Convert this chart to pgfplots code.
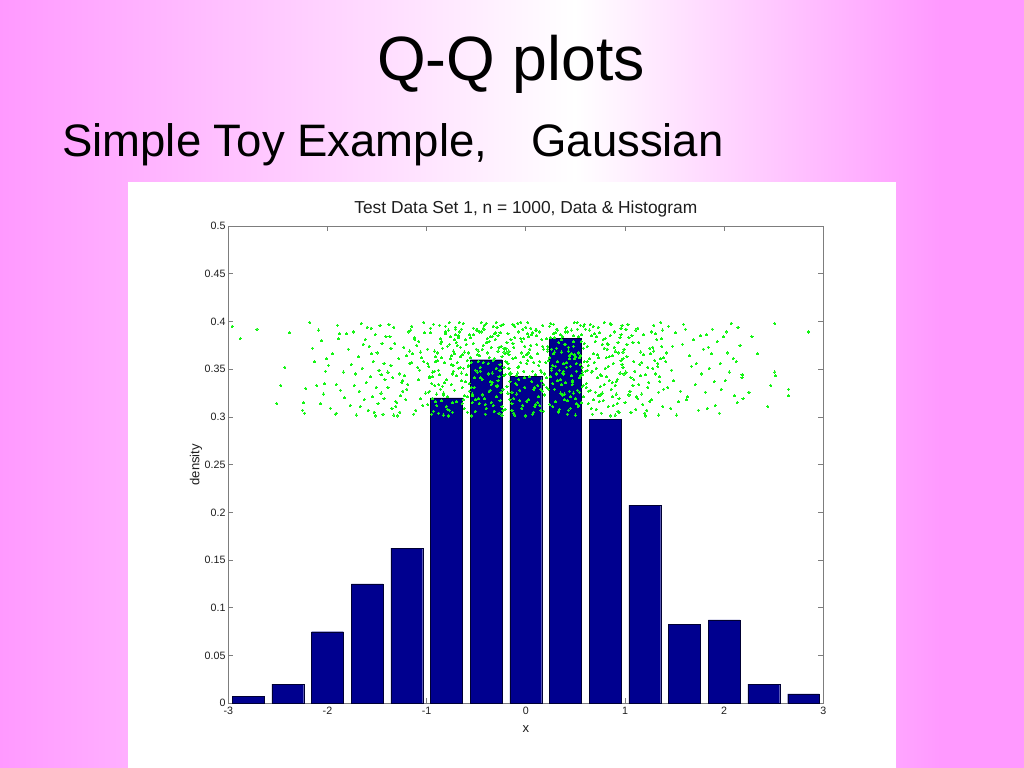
\documentclass[border=0pt]{standalone}
\usepackage{pgfplots}
\pgfplotsset{compat=1.18}
\usepackage{fontspec}
\setmainfont{Liberation Sans}
\definecolor{pinkbg}{RGB}{255,153,255}
\definecolor{barblue}{RGB}{0,0,143}
\definecolor{axgray}{RGB}{125,125,125}
\definecolor{dotgreen}{RGB}{20,245,20}
\definecolor{lbl}{RGB}{30,30,30}

\pgfplotstableread{
x y
-2.96 0.395
-2.88 0.382
-2.71 0.392
-2.43 0.352
-2.47 0.333
-2.51 0.314
-2.24 0.315
-2.25 0.307
-2.23 0.304
-2.22 0.330
-2.38 0.388
-2.18 0.399
-2.06 0.380
-2.13 0.358
-2.03 0.335
-2.07 0.314
-1.91 0.304
-2.01 0.361
-1.99 0.354
-2.02 0.348
-2.11 0.333
-1.90 0.396
-1.88 0.387
-1.89 0.382
-1.81 0.387
-1.91 0.334
-1.87 0.328
-1.83 0.320
-1.92 0.303
-2.15 0.372
-1.95 0.366
-2.09 0.391
-1.84 0.347
-1.97 0.309
-2.04 0.324
-1.79 0.371
-1.77 0.312
-1.74 0.389
-1.72 0.345
-1.71 0.302
-1.69 0.363
-1.68 0.327
-1.66 0.398
-1.65 0.351
-1.63 0.318
-1.62 0.381
-1.61 0.336
-1.59 0.307
-1.58 0.374
-1.57 0.342
-1.56 0.393
-1.55 0.321
-1.54 0.358
-1.53 0.305
-1.52 0.386
-1.51 0.331
-1.50 0.367
-1.49 0.314
-1.48 0.349
-1.47 0.396
-1.46 0.325
-1.45 0.377
-1.44 0.303
-1.43 0.356
-1.42 0.339
-1.41 0.384
-1.76 0.355
-1.73 0.333
-1.67 0.311
-1.64 0.376
-1.60 0.394
-1.56 0.366
-1.52 0.301
-1.46 0.344
-1.43 0.319
-1.39 0.347
-1.12 0.381
-1.27 0.305
-1.05 0.362
-1.33 0.394
-1.21 0.318
-1.08 0.339
-1.36 0.372
-1.17 0.356
-1.29 0.301
-1.02 0.388
-1.24 0.327
-1.14 0.366
-1.31 0.311
-1.07 0.349
-1.38 0.397
-1.19 0.334
-1.26 0.322
-1.10 0.375
-1.35 0.309
-1.03 0.358
-1.22 0.343
-1.16 0.391
-1.30 0.315
-1.06 0.368
-1.25 0.336
-1.13 0.303
-1.37 0.384
-1.09 0.352
-1.20 0.329
-1.32 0.377
-1.04 0.312
-1.28 0.361
-1.15 0.395
-1.34 0.341
-1.11 0.307
-1.23 0.373
-1.01 0.325
-1.18 0.389
-1.36 0.354
-1.06 0.319
-1.27 0.345
-1.12 0.383
-1.39 0.331
-1.20 0.364
-1.03 0.399
-1.31 0.316
-1.15 0.357
-1.24 0.338
-1.08 0.379
-1.33 0.302
-1.17 0.369
-0.97 0.342
-0.63 0.318
-0.81 0.387
-0.74 0.305
-0.92 0.369
-0.68 0.351
-0.86 0.329
-0.71 0.394
-0.99 0.313
-0.77 0.376
-0.65 0.338
-0.89 0.359
-0.83 0.302
-0.61 0.381
-0.94 0.347
-0.72 0.366
-0.79 0.321
-0.67 0.399
-0.88 0.334
-0.75 0.355
-0.96 0.388
-0.62 0.309
-0.84 0.372
-0.70 0.343
-0.91 0.316
-0.78 0.391
-0.66 0.363
-0.98 0.326
-0.73 0.348
-0.85 0.379
-0.64 0.331
-0.93 0.397
-0.80 0.311
-0.69 0.357
-0.87 0.344
-0.76 0.384
-0.95 0.303
-0.62 0.368
-0.82 0.336
-0.71 0.392
-0.90 0.324
-0.66 0.352
-0.79 0.374
-0.97 0.341
-0.74 0.315
-0.85 0.362
-0.63 0.398
-0.92 0.333
-0.77 0.307
-0.68 0.385
-0.88 0.349
-0.99 0.371
-0.72 0.328
-0.81 0.395
-0.65 0.346
-0.94 0.319
-0.75 0.364
-0.86 0.382
-0.61 0.337
-0.91 0.358
-0.78 0.301
-0.69 0.375
-0.83 0.323
-0.96 0.393
-0.73 0.354
-0.64 0.314
-0.89 0.367
-0.80 0.339
-0.67 0.389
-0.93 0.306
-0.76 0.361
-0.84 0.332
-0.70 0.378
-0.98 0.353
-0.62 0.322
-0.87 0.396
-0.74 0.345
-0.90 0.312
-0.66 0.373
-0.82 0.357
-0.95 0.335
-0.71 0.386
-0.79 0.308
-0.64 0.365
-0.92 0.348
-0.77 0.399
-0.85 0.317
-0.68 0.383
-0.97 0.327
-0.73 0.369
-0.88 0.304
-0.63 0.351
-0.81 0.389
-0.94 0.342
-0.70 0.316
-0.86 0.377
-0.75 0.334
-0.91 0.363
-0.65 0.392
-0.83 0.325
-0.99 0.356
-0.72 0.381
-0.58 0.367
-0.33 0.312
-0.47 0.389
-0.22 0.343
-0.51 0.306
-0.39 0.378
-0.26 0.355
-0.55 0.331
-0.42 0.396
-0.30 0.321
-0.59 0.359
-0.36 0.384
-0.24 0.302
-0.49 0.347
-0.44 0.371
-0.28 0.338
-0.53 0.393
-0.35 0.315
-0.21 0.366
-0.46 0.352
-0.57 0.327
-0.31 0.388
-0.40 0.309
-0.25 0.374
-0.52 0.341
-0.37 0.362
-0.23 0.397
-0.48 0.319
-0.56 0.383
-0.34 0.336
-0.43 0.357
-0.27 0.304
-0.50 0.391
-0.38 0.345
-0.22 0.372
-0.54 0.324
-0.32 0.361
-0.45 0.399
-0.29 0.333
-0.60 0.376
-0.41 0.313
-0.26 0.349
-0.53 0.386
-0.36 0.328
-0.47 0.364
-0.23 0.307
-0.58 0.354
-0.33 0.395
-0.44 0.339
-0.28 0.369
-0.51 0.318
-0.39 0.382
-0.21 0.344
-0.55 0.301
-0.35 0.373
-0.48 0.358
-0.25 0.326
-0.42 0.392
-0.30 0.351
-0.57 0.335
-0.37 0.379
-0.24 0.311
-0.49 0.365
-0.40 0.398
-0.27 0.342
-0.54 0.322
-0.32 0.387
-0.46 0.348
-0.22 0.368
-0.59 0.305
-0.38 0.356
-0.29 0.394
-0.52 0.331
-0.43 0.375
-0.26 0.317
-0.56 0.362
-0.34 0.346
-0.45 0.389
-0.23 0.329
-0.50 0.371
-0.41 0.303
-0.31 0.381
-0.58 0.353
-0.36 0.337
-0.25 0.396
-0.47 0.314
-0.53 0.377
-0.33 0.359
-0.44 0.323
-0.28 0.385
-0.60 0.344
-0.39 0.367
-0.21 0.308
-0.49 0.391
-0.35 0.334
-0.55 0.357
-0.27 0.373
-0.42 0.319
-0.30 0.399
-0.51 0.349
-0.37 0.327
-0.24 0.363
-0.57 0.386
-0.46 0.341
-0.32 0.306
-0.40 0.378
-0.22 0.352
-0.54 0.315
-0.43 0.393
-0.29 0.332
-0.48 0.369
-0.34 0.384
-0.59 0.321
-0.38 0.345
-0.26 0.388
-0.18 0.356
0.13 0.321
-0.07 0.389
0.04 0.342
-0.14 0.307
0.17 0.374
-0.02 0.363
0.09 0.331
-0.11 0.395
0.01 0.316
-0.19 0.368
0.15 0.349
-0.05 0.382
0.07 0.303
-0.16 0.337
0.11 0.391
-0.09 0.324
0.02 0.359
-0.13 0.377
0.19 0.345
-0.03 0.312
0.06 0.386
-0.17 0.351
0.12 0.333
-0.08 0.398
0.03 0.367
-0.12 0.319
0.16 0.381
-0.01 0.341
0.08 0.305
-0.20 0.372
0.14 0.358
-0.06 0.328
0.05 0.393
-0.15 0.346
0.10 0.313
-0.04 0.379
0.18 0.334
-0.10 0.362
0.00 0.301
-0.18 0.387
0.13 0.354
-0.07 0.339
0.04 0.371
-0.14 0.326
0.17 0.396
-0.02 0.348
0.09 0.311
-0.11 0.383
0.01 0.365
-0.19 0.332
0.15 0.307
-0.05 0.357
0.07 0.388
-0.16 0.318
0.11 0.376
-0.09 0.343
0.02 0.399
-0.13 0.361
0.19 0.323
-0.03 0.392
0.06 0.337
-0.17 0.369
0.12 0.315
-0.08 0.352
0.03 0.384
-0.12 0.304
0.16 0.347
-0.01 0.374
0.08 0.329
-0.20 0.358
0.14 0.389
-0.06 0.317
0.05 0.363
-0.15 0.381
0.10 0.344
-0.04 0.309
0.18 0.371
-0.10 0.335
0.00 0.394
-0.18 0.325
0.12 0.366
-0.07 0.353
0.03 0.318
-0.13 0.397
0.16 0.338
-0.02 0.382
0.08 0.357
-0.11 0.302
0.05 0.375
-0.16 0.345
0.14 0.312
-0.04 0.367
0.10 0.391
-0.09 0.334
0.01 0.356
-0.19 0.378
0.17 0.327
-0.05 0.399
0.07 0.348
-0.14 0.314
0.11 0.385
-0.01 0.331
0.06 0.362
-0.12 0.373
0.18 0.306
-0.08 0.346
0.02 0.387
-0.17 0.365
0.15 0.329
0.22 0.371
0.47 0.334
0.31 0.392
0.56 0.315
0.38 0.356
0.25 0.383
0.51 0.348
0.43 0.307
0.28 0.366
0.59 0.397
0.35 0.325
0.48 0.374
0.21 0.341
0.54 0.362
0.40 0.389
0.27 0.311
0.45 0.353
0.33 0.378
0.57 0.332
0.24 0.395
0.50 0.319
0.37 0.346
0.29 0.368
0.53 0.384
0.42 0.303
0.20 0.357
0.46 0.391
0.32 0.338
0.58 0.372
0.39 0.324
0.26 0.349
0.52 0.399
0.44 0.361
0.30 0.316
0.55 0.343
0.36 0.381
0.23 0.329
0.49 0.365
0.41 0.394
0.34 0.308
0.57 0.352
0.28 0.387
0.47 0.337
0.22 0.369
0.53 0.312
0.39 0.376
0.31 0.345
0.59 0.358
0.44 0.327
0.25 0.398
0.50 0.363
0.36 0.334
0.56 0.386
0.42 0.317
0.27 0.354
0.48 0.379
0.33 0.305
0.54 0.341
0.40 0.393
0.21 0.331
0.46 0.366
0.38 0.348
0.58 0.321
0.30 0.388
0.51 0.356
0.43 0.373
0.24 0.313
0.55 0.396
0.35 0.339
0.49 0.361
0.29 0.383
0.52 0.328
0.41 0.352
0.26 0.371
0.57 0.344
0.45 0.309
0.32 0.391
0.53 0.367
0.37 0.323
0.23 0.359
0.48 0.385
0.40 0.336
0.59 0.377
0.34 0.349
0.50 0.302
0.44 0.364
0.28 0.397
0.55 0.355
0.39 0.318
0.21 0.382
0.46 0.343
0.31 0.372
0.54 0.326
0.42 0.389
0.26 0.351
0.51 0.314
0.36 0.368
0.58 0.395
0.47 0.338
0.24 0.362
0.33 0.306
0.56 0.379
0.41 0.357
0.29 0.329
0.52 0.392
0.38 0.345
0.22 0.374
0.45 0.321
0.35 0.386
0.57 0.347
0.43 0.369
0.27 0.335
0.49 0.399
0.30 0.353
0.53 0.311
0.40 0.376
0.25 0.342
0.55 0.364
0.37 0.384
0.48 0.325
0.32 0.358
0.58 0.333
0.62 0.358
0.87 0.321
0.71 0.384
0.95 0.346
0.66 0.309
0.79 0.372
0.91 0.337
0.68 0.395
0.83 0.353
0.74 0.316
0.98 0.368
0.61 0.331
0.89 0.389
0.76 0.304
0.64 0.361
0.93 0.378
0.81 0.342
0.70 0.326
0.86 0.397
0.97 0.355
0.63 0.314
0.78 0.381
0.90 0.333
0.72 0.365
0.85 0.301
0.67 0.348
0.96 0.386
0.75 0.323
0.82 0.371
0.60 0.392
0.92 0.339
0.69 0.357
0.88 0.312
0.77 0.376
0.99 0.345
0.65 0.328
0.84 0.363
0.73 0.394
0.94 0.319
0.80 0.351
0.62 0.374
0.87 0.336
0.71 0.308
0.95 0.383
0.66 0.347
0.79 0.399
0.91 0.324
0.68 0.366
0.83 0.311
0.74 0.388
0.98 0.352
0.61 0.335
0.89 0.373
0.76 0.343
0.64 0.391
0.93 0.306
0.81 0.362
0.70 0.379
0.86 0.329
0.97 0.396
0.63 0.354
0.78 0.317
0.90 0.369
0.72 0.341
0.85 0.385
0.67 0.303
0.96 0.359
0.75 0.332
0.82 0.377
0.60 0.348
0.92 0.314
0.69 0.387
0.88 0.356
0.77 0.325
0.99 0.371
0.65 0.397
0.84 0.338
0.73 0.362
0.94 0.305
0.80 0.382
0.63 0.327
0.87 0.364
0.71 0.351
0.96 0.393
0.68 0.318
0.83 0.376
0.75 0.344
0.90 0.302
0.66 0.385
0.79 0.334
0.93 0.367
0.62 0.349
0.85 0.398
0.73 0.322
0.98 0.361
1.02 0.376
1.27 0.318
1.11 0.391
1.35 0.342
1.06 0.305
1.19 0.365
1.31 0.387
1.08 0.333
1.23 0.352
1.38 0.311
1.14 0.378
1.01 0.347
1.29 0.396
1.17 0.324
1.36 0.361
1.04 0.383
1.22 0.307
1.33 0.356
1.09 0.339
1.25 0.372
1.39 0.329
1.13 0.393
1.00 0.315
1.28 0.351
1.16 0.368
1.34 0.302
1.07 0.385
1.21 0.344
1.37 0.374
1.12 0.321
1.30 0.359
1.03 0.397
1.24 0.336
1.18 0.313
1.32 0.381
1.10 0.348
1.26 0.366
1.05 0.327
1.38 0.391
1.15 0.355
1.20 0.304
1.35 0.337
1.02 0.363
1.27 0.389
1.13 0.319
1.31 0.345
1.08 0.378
1.23 0.331
1.36 0.399
1.17 0.357
1.04 0.323
1.29 0.369
1.11 0.308
1.33 0.353
1.19 0.386
1.06 0.341
1.25 0.316
1.39 0.362
1.14 0.334
1.01 0.392
1.28 0.373
1.21 0.301
1.34 0.326
1.09 0.358
1.37 0.382
1.16 0.343
1.42 0.367
1.63 0.321
1.51 0.388
1.77 0.345
1.46 0.309
1.58 0.376
1.71 0.334
1.44 0.395
1.67 0.353
1.54 0.316
1.79 0.371
1.49 0.338
1.61 0.392
1.74 0.307
1.41 0.358
1.56 0.327
1.69 0.381
1.47 0.349
1.65 0.364
1.52 0.302
1.76 0.385
1.43 0.331
1.59 0.397
1.72 0.356
1.48 0.374
1.62 0.318
2.14 0.394
2.12 0.358
2.18 0.344
2.18 0.341
2.19 0.319
2.13 0.315
2.03 0.367
1.82 0.386
1.97 0.329
1.85 0.351
2.07 0.398
1.91 0.312
1.84 0.373
2.01 0.338
1.88 0.392
1.95 0.304
2.09 0.361
1.81 0.326
1.93 0.379
2.05 0.347
1.87 0.366
1.99 0.384
2.10 0.322
1.83 0.309
1.96 0.356
2.16 0.375
1.90 0.337
2.02 0.389
2.51 0.398
2.34 0.366
2.51 0.347
2.52 0.343
2.47 0.333
2.44 0.311
2.25 0.326
2.28 0.384
2.85 0.389
2.65 0.329
2.65 0.322
}\dotdata

\begin{document}
\begin{tikzpicture}
\begin{scope}[x=0.703125pt,y=-0.703125pt]
\fill[pinkbg] (0,0) rectangle (1024,768);
\shade[left color=pinkbg,right color=white] (0,0) rectangle (575,768);
\shade[left color=white,right color=pinkbg] (575,0) rectangle (940,768);
\fill[white] (128,182) rectangle (896,768);
\node[anchor=base,inner sep=0pt,font=\fontsize{44}{50}\selectfont] at (511,80.5) {Q-Q plots};
\node[anchor=base west,inner sep=0pt,font=\fontsize{32}{38}\selectfont] at (62,157) {Simple Toy Example,};
\node[anchor=base west,inner sep=0pt,font=\fontsize{32}{38}\selectfont] at (531,157) {Gaussian};
\end{scope}
\begin{axis}[
  at={(160.52pt,-494.51pt)}, anchor=south west,
  width=418.4pt, height=335.6pt, scale only axis,
  xmin=-3, xmax=3, ymin=0, ymax=0.5,
  xtick={-3,-2,-1,0,1,2,3},
  ytick={0,0.05,0.1,0.15,0.2,0.25,0.3,0.35,0.4,0.45,0.5},
  scaled y ticks=false,
  tick align=inside,
  major tick length=3.5pt,
  axis line style={axgray, line width=0.5pt},
  every tick/.style={axgray, line width=0.5pt},
  /pgf/number format/assume math mode=true,
  yticklabel style={/pgf/number format/fixed, /pgf/number format/precision=2,
     font=\fontsize{7.5}{8}\selectfont, text=lbl, inner sep=1.8pt},
  xticklabel style={font=\fontsize{7.5}{8}\selectfont, text=lbl, inner sep=2.6pt},
  title={Test Data Set 1, n = 1000, Data \& Histogram},
  title style={at={(axis description cs:0.5,1.009)}, anchor=base, inner sep=0pt,
     font=\fontsize{12.2}{14}\selectfont, text=lbl},
  xlabel={x}, ylabel={density},
  every axis x label/.style={at={(axis description cs:0.5,-0.0616)}, anchor=base,
     inner sep=0pt, font=\fontsize{9.2}{11}\selectfont, text=lbl},
  every axis y label/.style={at={(axis description cs:-0.0484,0.5)}, anchor=base,
     rotate=90, inner sep=0pt, font=\fontsize{9.2}{11}\selectfont, text=lbl},
]
\addplot[ybar, bar shift=0pt, bar width=0.32, fill=barblue, draw=black!80!blue, line width=0.2pt]
  coordinates {(-2.8,0.0075) (-2.4,0.02) (-2.0,0.075) (-1.6,0.125) (-1.2,0.1625)
   (-0.8,0.32) (-0.4,0.36) (0,0.3425) (0.4,0.3825) (0.8,0.2975) (1.2,0.2075)
   (1.6,0.0825) (2.0,0.0875) (2.4,0.02) (2.8,0.01)};
\addplot[only marks, color=dotgreen, mark=*, mark size=0.75pt, mark options={draw=dotgreen, fill=dotgreen, line width=0pt}]
  table[x=x, y=y] {\dotdata};
\end{axis}
\end{tikzpicture}
\end{document}
